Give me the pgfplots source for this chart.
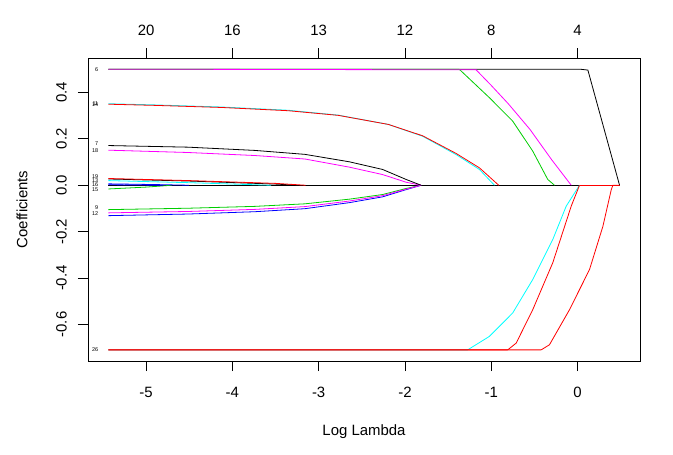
\documentclass[border=0pt]{standalone}
\usepackage{fontspec}
\setmainfont{Liberation Sans}
\usepackage{pgfplots}
\pgfplotsset{compat=1.18}
\definecolor{rgreen}{RGB}{0,205,0}
\definecolor{rcyan}{RGB}{0,255,255}
\definecolor{rmag}{RGB}{255,0,255}
\definecolor{rblue}{RGB}{0,0,255}
\definecolor{rred}{RGB}{255,0,0}
\newcommand{\lab}[2]{\node[anchor=east,inner sep=0pt,font=\fontsize{5.5}{6}\selectfont] at (axis cs:-5.436,#1) [xshift=-10bp] {#2};}
\begin{document}
\begin{tikzpicture}
\useasboundingbox (-88bp,-94bp) rectangle (585bp,361bp);
\begin{axis}[
 at={(0,0)}, anchor=south west,
 scale only axis, width=552bp, height=303bp,
 xmin=-5.673, xmax=0.724, ymin=-0.757, ymax=0.548,
 axis line style={line width=0.75bp},
 tick align=outside, major tick length=10bp,
 xtick pos=left, ytick pos=left,
 xtick={-5,-4,-3,-2,-1,0}, xticklabels={-5,-4,-3,-2,-1,0},
 ytick={-0.6,-0.4,-0.2,0,0.2,0.4}, yticklabels={-0.6,-0.4,-0.2,0.0,0.2,0.4},
 tick style={line width=0.75bp, black},
 ticklabel style={font=\fontsize{15}{18}\selectfont},
 xticklabel style={anchor=center, yshift=-21bp},
 yticklabel style={anchor=center, xshift=-16.5bp, rotate=90},
 xlabel={Log Lambda}, ylabel={Coefficients},
 label style={font=\fontsize{15}{18}\selectfont},
 xlabel style={at={(axis description cs:0.5,-0.2343)}, anchor=center},
 ylabel style={at={(axis description cs:-0.1196,0.5)}, anchor=center},
 every axis plot/.append style={line width=0.8bp, line join=round, mark=none},
]
% zero line
\addplot[black] coordinates {(-5.436,0) (0.023,0)};
\addplot[rred] coordinates {(0.023,0) (0.487,0)};
% near-zero group
\addplot[rgreen] coordinates {(-5.436,-0.016) (-5.0,-0.008) (-4.7,0)};
\addplot[rblue] coordinates {(-5.436,0.002) (-4.8,0)};
\addplot[rblue] coordinates {(-5.436,0.006) (-4.9,0.003) (-4.5,0)};
\addplot[rcyan] coordinates {(-5.436,0.02) (-4.5,0.011) (-3.9,0.004) (-3.55,0)};
\addplot[black] coordinates {(-5.436,0.027) (-4.5,0.018) (-3.5,0.005) (-3.25,0)};
\addplot[rred] coordinates {(-5.436,0.029) (-4.5,0.02) (-3.5,0.008) (-3.15,0)};
% lower group
\addplot[rgreen] coordinates {(-5.436,-0.105) (-4.513,-0.099) (-3.739,-0.091) (-3.159,-0.08) (-2.645,-0.06) (-2.259,-0.04) (-1.987,-0.014) (-1.813,0)};
\addplot[rblue] coordinates {(-5.436,-0.131) (-4.513,-0.124) (-3.739,-0.114) (-3.159,-0.101) (-2.645,-0.075) (-2.259,-0.05) (-1.987,-0.019) (-1.813,0)};
\addplot[rmag] coordinates {(-5.436,-0.119) (-4.513,-0.113) (-3.739,-0.104) (-3.159,-0.092) (-2.645,-0.068) (-2.259,-0.045) (-1.987,-0.017) (-1.813,0)};
% 0.17 group
\addplot[rmag] coordinates {(-5.436,0.151) (-4.513,0.141) (-3.739,0.128) (-3.159,0.113) (-2.645,0.078) (-2.259,0.046) (-1.987,0.013) (-1.813,0)};
\addplot[black] coordinates {(-5.436,0.171) (-4.513,0.164) (-3.739,0.150) (-3.159,0.133) (-2.645,0.101) (-2.259,0.068) (-1.987,0.025) (-1.813,0)};
% 0.35 group
\addplot[rcyan] coordinates {(-5.436,0.351) (-4.899,0.346) (-4.127,0.337) (-3.353,0.323) (-2.773,0.302) (-2.193,0.262) (-1.795,0.211) (-1.407,0.132) (-1.137,0.068) (-0.963,0)};
\addplot[rred] coordinates {(-5.436,0.349) (-4.899,0.344) (-4.127,0.335) (-3.353,0.321) (-2.773,0.301) (-2.193,0.262) (-1.795,0.213) (-1.407,0.137) (-1.137,0.075) (-0.913,0)};
% 0.5 group
\addplot[black] coordinates {(-5.436,0.5) (0.023,0.5) (0.12,0.496) (0.487,0)};
\addplot[rgreen] coordinates {(-5.436,0.5) (-1.369,0.499) (-1.021,0.377) (-0.751,0.276) (-0.519,0.147) (-0.345,0.025) (-0.267,0)};
\addplot[rmag] coordinates {(-5.436,0.5) (-1.175,0.497) (-1.0,0.43) (-0.8,0.35) (-0.55,0.24) (-0.3,0.11) (-0.073,0)};
% -0.71 group
\addplot[rcyan] coordinates {(-5.436,-0.709) (-1.273,-0.709) (-1.021,-0.651) (-0.751,-0.55) (-0.519,-0.406) (-0.287,-0.234) (-0.131,-0.09) (0.004,-0.011) (0.023,0)};
\addplot[rred] coordinates {(-5.436,-0.709) (-0.809,-0.709) (-0.711,-0.68) (-0.519,-0.536) (-0.287,-0.334) (-0.073,-0.09) (0.023,0)};
\addplot[rred] coordinates {(-5.436,-0.709) (-0.421,-0.709) (-0.325,-0.687) (-0.093,-0.536) (0.139,-0.363) (0.294,-0.177) (0.391,-0.019) (0.41,0) (0.487,0)};
% variable labels
\lab{0.5}{6}
\lab{0.351}{11}
\lab{0.349}{14}
\lab{0.180}{7}
\lab{0.150}{18}
\lab{0.037}{19}
\lab{0.019}{13}
\lab{0.001}{16}
\lab{-0.017}{15}
\lab{-0.097}{9}
\lab{-0.123}{12}
\lab{-0.709}{26}
\end{axis}
\begin{axis}[
 at={(0,0)}, anchor=south west,
 scale only axis, width=552bp, height=303bp,
 xmin=-5.673, xmax=0.724, ymin=-0.757, ymax=0.548,
 axis x line*=top, axis y line=none,
 axis line style={line width=0.75bp},
 tick align=outside, major tick length=10bp,
 xtick={-5,-4,-3,-2,-1,0}, xticklabels={20,16,13,12,8,4},
 tick style={line width=0.75bp, black},
 ticklabel style={font=\fontsize{15}{18}\selectfont},
 xticklabel style={anchor=center, yshift=18bp},
]
\end{axis}
\end{tikzpicture}
\end{document}
